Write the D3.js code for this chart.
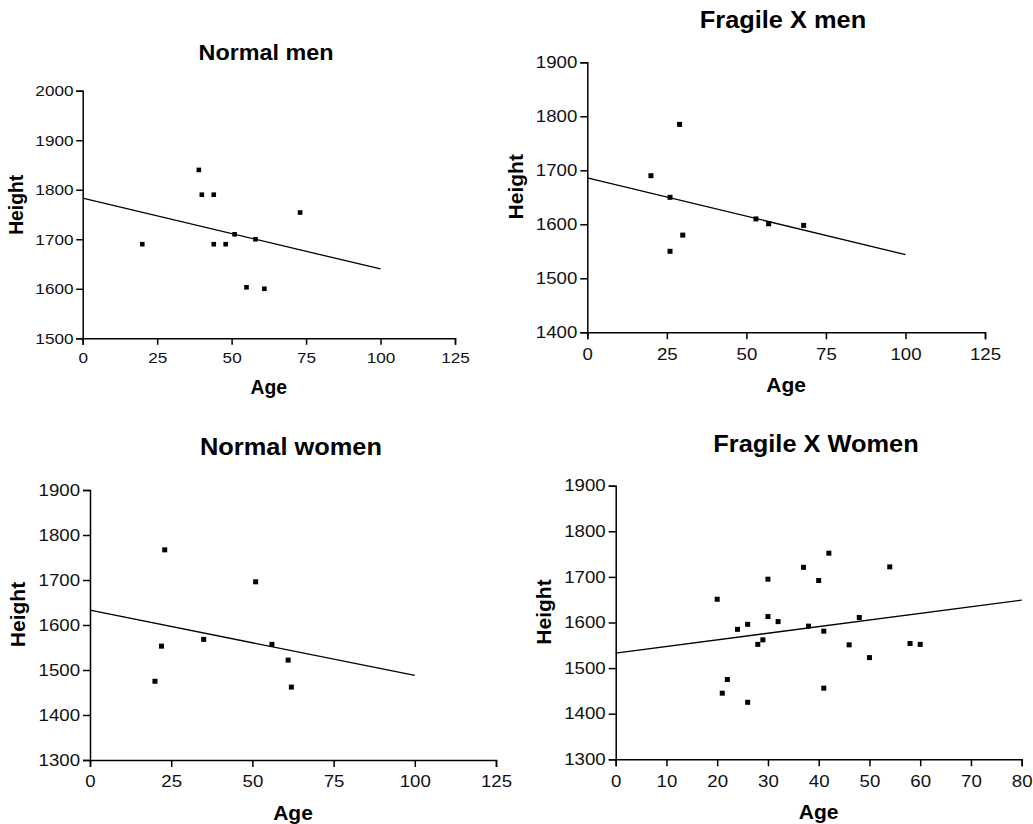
<!DOCTYPE html>
<html>
<head>
<meta charset="utf-8">
<script src="https://cdn.jsdelivr.net/npm/d3@7/dist/d3.min.js"></script>
<style>
  html, body { margin: 0; padding: 0; background: #fff; }
  svg { display: block; font-family: "Liberation Sans", Arial, sans-serif; }
</style>
</head>
<body>
<svg id="chart" width="1033" height="824"></svg>
<script>
// ---- Data ----
const titles = ["Normal men", "Fragile X men", "Normal women", "Fragile X Women"];
const xAxisTitle = "Age";
const yAxisTitle = "Height";

const nmAge    = [20, 39, 40, 44, 44, 48, 51, 58, 55, 61, 73];
const nmHeight = [1690, 1840, 1790, 1790, 1690, 1690, 1710, 1700, 1603, 1600, 1754];
const nmFitX   = [0, 100];
const nmFitY   = [1783, 1640];

const fmAge    = [20, 29, 26, 30, 26, 53, 57, 68];
const fmHeight = [1690, 1785, 1650, 1580, 1550, 1610, 1601, 1598];
const fmFitX   = [0, 100];
const fmFitY   = [1686, 1544];

const nwAge    = [23, 20, 22, 35, 51, 56, 61, 62];
const nwHeight = [1767, 1475, 1553, 1568, 1696, 1557, 1522, 1462];
const nwFitX   = [0, 100];
const nwFitY   = [1633, 1488];

const fwAge    = [20, 21, 22, 24, 26, 26, 28, 29, 30, 30, 32, 37, 38, 40, 42, 41, 41, 46, 48, 50, 54, 58, 60];
const fwHeight = [1651, 1445, 1475, 1585, 1596, 1425, 1552, 1562, 1695, 1613, 1602, 1721, 1592, 1692, 1752, 1581, 1456, 1551, 1611, 1523, 1722, 1554, 1552];
const fwFitX   = [0, 80];
const fwFitY   = [1533, 1649];

const xTicksAge125 = [0, 25, 50, 75, 100, 125];
const xTicksAge80  = [0, 10, 20, 30, 40, 50, 60, 70, 80];
const yTicksNM = [1500, 1600, 1700, 1800, 1900, 2000];
const yTicksFM = [1400, 1500, 1600, 1700, 1800, 1900];
const yTicksW  = [1300, 1400, 1500, 1600, 1700, 1800, 1900];

// ---- Layout ----
const panels = [
  { title: titles[0], age: nmAge, height: nmHeight, fitX: nmFitX, fitY: nmFitY, xTicks: xTicksAge125, yTicks: yTicksNM,
    left: 82.7, right: 455, top: 90.7, bottom: 338.3, k: 0.92, titleX: 266, titleY: 60 },
  { title: titles[1], age: fmAge, height: fmHeight, fitX: fmFitX, fitY: fmFitY, xTicks: xTicksAge125, yTicks: yTicksFM,
    left: 587.3, right: 985, top: 62.3, bottom: 332.3, k: 1, titleX: 783, titleY: 28 },
  { title: titles[2], age: nwAge, height: nwHeight, fitX: nwFitX, fitY: nwFitY, xTicks: xTicksAge125, yTicks: yTicksW,
    left: 90, right: 496, top: 490, bottom: 760, k: 1, titleX: 291, titleY: 455 },
  { title: titles[3], age: fwAge, height: fwHeight, fitX: fwFitX, fitY: fwFitY, xTicks: xTicksAge80, yTicks: yTicksW,
    left: 615.7, right: 1021.7, top: 485.7, bottom: 759.3, k: 1, titleX: 816, titleY: 452 }
];

const svg = d3.select("#chart");

// horizontally widen a text element (reference glyphs are slightly wide)
function widen(sel, f) {
  sel.each(function () {
    const w = this.getComputedTextLength();
    d3.select(this).attr("textLength", w * f).attr("lengthAdjust", "spacingAndGlyphs");
  });
}

panels.forEach(p => {
  const k = p.k;
  const x = d3.scaleLinear().domain(d3.extent(p.xTicks)).range([p.left, p.right]);
  const y = d3.scaleLinear().domain(d3.extent(p.yTicks)).range([p.bottom, p.top]);
  const g = svg.append("g");

  // Title
  const t = g.append("text")
    .attr("x", p.titleX).attr("y", p.titleY)
    .attr("text-anchor", "middle")
    .attr("font-weight", "bold")
    .attr("font-size", 23.5 * k)
    .attr("fill", "#000")
    .text(p.title);
  widen(t, 1.08);

  // X axis
  const xAxis = g.append("g")
    .attr("transform", `translate(0,${p.bottom})`)
    .call(d3.axisBottom(x).tickValues(p.xTicks).tickSize(7 * k).tickPadding(8.5 * k).tickFormat(d3.format("d")));
  // Y axis
  const yAxis = g.append("g")
    .attr("transform", `translate(${p.left},0)`)
    .call(d3.axisLeft(y).tickValues(p.yTicks).tickSize(7 * k).tickPadding(3 * k).tickFormat(d3.format("d")));

  [xAxis, yAxis].forEach(a => {
    a.attr("font-family", null).attr("font-size", 16.5 * k);
    a.select(".domain").attr("stroke", "#000").attr("stroke-width", 1.5);
    a.selectAll(".tick line").attr("stroke", "#000").attr("stroke-width", 1.5);
    a.selectAll(".tick text").attr("fill", "#111");
    widen(a.selectAll(".tick text"), 1.13);
  });

  // Axis titles
  g.append("text")
    .attr("x", (p.left + p.right) / 2)
    .attr("y", p.bottom + 60 * k)
    .attr("text-anchor", "middle")
    .attr("font-weight", "bold")
    .attr("font-size", 21 * k)
    .attr("fill", "#000")
    .text(xAxisTitle);

  const hx = p.left - 70 * k;
  const hy = (p.top + p.bottom) / 2 - 10.5 * k;
  g.append("text")
    .attr("transform", `translate(${hx},${hy}) rotate(-90)`)
    .attr("text-anchor", "middle")
    .attr("dy", "0.26em")
    .attr("font-weight", "bold")
    .attr("font-size", 21 * k)
    .attr("fill", "#000")
    .text(yAxisTitle);

  // Regression line
  const line = d3.line().x(d => x(d[0])).y(d => y(d[1]));
  g.append("path")
    .datum(d3.zip(p.fitX, p.fitY))
    .attr("d", line)
    .attr("fill", "none")
    .attr("stroke", "#000")
    .attr("stroke-width", 1.3);

  // Points
  const s = 5 * k;
  g.selectAll("rect.pt")
    .data(d3.zip(p.age, p.height))
    .join("rect")
    .attr("class", "pt")
    .attr("x", d => x(d[0]) - s / 2)
    .attr("y", d => y(d[1]) - s / 2)
    .attr("width", s)
    .attr("height", s)
    .attr("fill", "#000");
});
</script>
</body>
</html>
